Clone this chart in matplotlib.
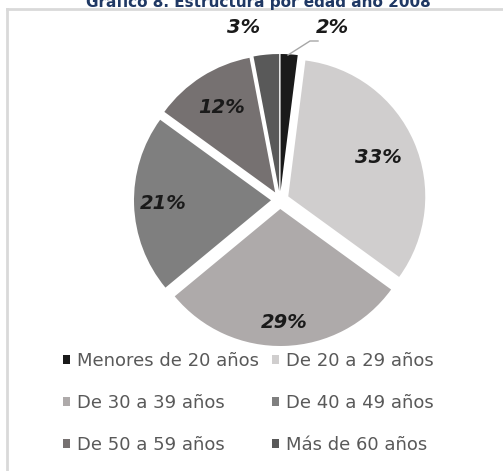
import matplotlib.pyplot as plt
import numpy as np

# age structure, percent
categories = ['Menores de 20 años', 'De 20 a 29 años', 'De 30 a 39 años',
              'De 40 a 49 años', 'De 50 a 59 años', 'Más de 60 años']
shares = [2, 33, 29, 21, 12, 3]
colors = ['#1a1a1a', '#d0cece', '#aeaaaa', '#7f7f7f', '#767171', '#595959']
title = 'Gráfico 8. Estructura por edad año 2008'

W, H = 503, 471
fig = plt.figure(figsize=(W / 100, H / 100), dpi=100)
ax = fig.add_axes([0, 0, 1, 1])

cx, cy, R = 280, H - 200, 137
wedges, texts, autotexts = ax.pie(
    shares, colors=colors, startangle=90, counterclock=False,
    center=(cx, cy), radius=R, explode=[9] * len(shares),
    autopct='%1.0f%%', pctdistance=0.75,
    textprops=dict(fontsize=14, fontweight='bold', fontstyle='italic', color='#1a1a1a'))

# label placement per slice: distance (fraction of R) and angle shift (deg)
label_dist = [1.25, 0.72, 0.83, 0.79, 0.73, 1.22]
label_shift = [-14, 0, 0, 0, 0, 7]
for w, t, d, s in zip(wedges, autotexts, label_dist, label_shift):
    th = np.deg2rad((w.theta1 + w.theta2) / 2 + s)
    x0, y0 = w.center
    t.set_position((x0 + d * R * np.cos(th), y0 + d * R * np.sin(th)))

# leader line for the smallest slice
ax.plot([318, 310, 288], [H - 41, H - 41, H - 55], color='#a6a6a6', lw=1)

# chart frame (only top and left visible)
ax.plot([7, W + 5], [H - 9, H - 9], color='#d9d9d9', lw=2, clip_on=False)
ax.plot([7, 7], [H - 9, -5], color='#d9d9d9', lw=2, clip_on=False)

ax.text(258, H - 7, title, ha='center', va='baseline', fontsize=11,
        fontweight='bold', color='#1f3864')

# legend filled row by row, like the original
order = [0, 2, 4, 1, 3, 5]
ax.legend([wedges[i] for i in order], [categories[i] for i in order],
          ncol=2, loc='upper left',
          bbox_to_anchor=(63 / W, 1 - 352 / H), bbox_transform=fig.transFigure,
          frameon=False, fontsize=13, labelcolor='#595959',
          handlelength=0.4, handleheight=0.4, handletextpad=0.35,
          columnspacing=0.75, labelspacing=1.33, borderpad=0, borderaxespad=0)

ax.set_xlim(0, W)
ax.set_ylim(0, H)
ax.set_aspect('equal')
ax.axis('off')

fig.savefig('out.png', dpi=100)
